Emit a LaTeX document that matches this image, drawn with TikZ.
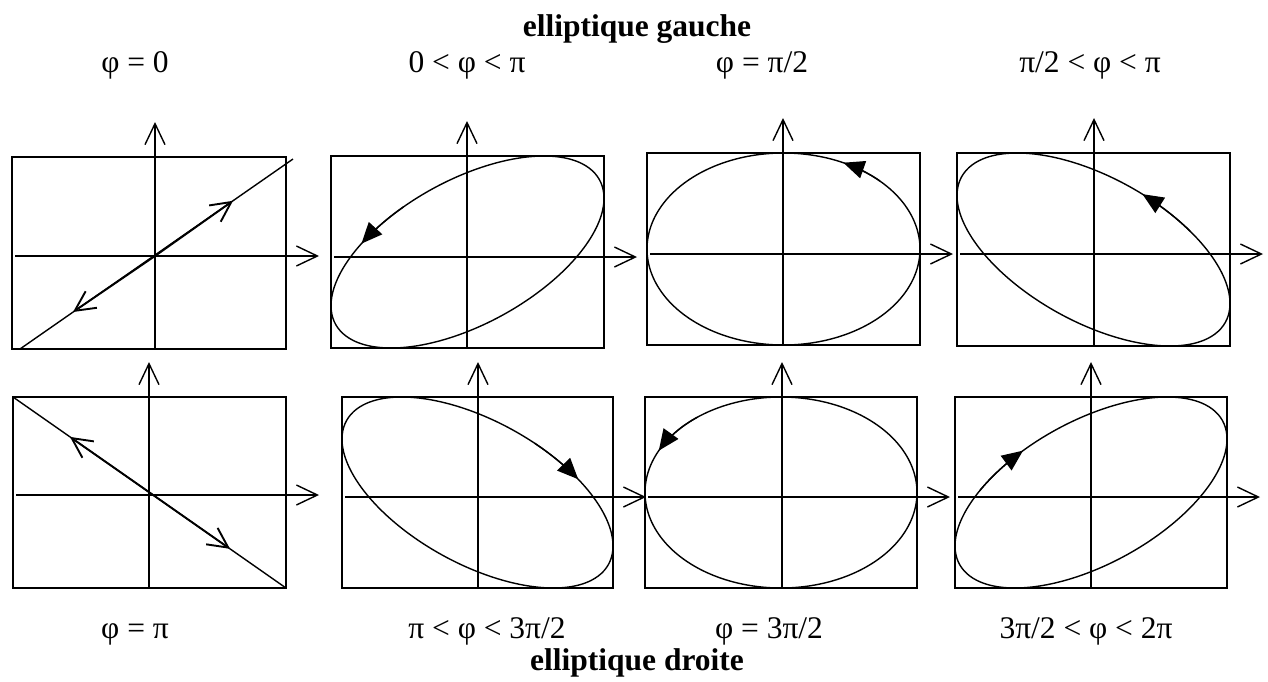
\documentclass[tikz,border=0pt]{standalone}
\usepackage{fontspec}
\setmainfont{Liberation Serif}
\usetikzlibrary{arrows.meta}

\begin{document}
\begin{tikzpicture}[x=1pt, y=-1pt,
        every node/.style={font=\fontsize{31.5}{36}\selectfont, anchor=base, inner sep=0pt},
        frame/.style={line width=1.4pt},
        axis/.style={line width=1.4pt, -{Straight Barb[length=21pt,width=20pt]}},
        curve/.style={line width=1.4pt},
        sens/.style={line width=1.4pt, -{Triangle[length=21pt,width=18pt]}},
        sensopen/.style={line width=1.9pt, -{Straight Barb[length=20pt,width=20pt]}}]
      \useasboundingbox (0,0) rectangle (1268,681);
      % titles
      \node[font=\fontsize{31.5}{36}\selectfont\bfseries] (G) at (637,36) {elliptique gauche};
      \node[font=\fontsize{31.5}{36}\selectfont\bfseries] (D) at (637,670) {elliptique droite};
      % phase labels
      \node (L1) at (135,72) {φ = 0};
      \node (L2) at (467,72) {0 < φ < π};
      \node (L3) at (762,72) {φ = π/2};
      \node (L4) at (1090,72) {π/2 < φ < π};
      \node (L5) at (135,638) {φ = π};
      \node (L6) at (487,638) {π < φ < 3π/2};
      \node (L7) at (769,638) {φ = 3π/2};
      \node (L8) at (1086,638) {3π/2 < φ < 2π};
      % frames and axes
      \foreach \ox/\oy/\bl/\br/\bt/\bb in {155/256/12/286/157/349, 467/257/331/604/156/348,
          783/254/647/920/153/345, 1094/254/957/1230/153/346, 149/495/13/286/397/588,
          478/497/342/613/397/588, 782/497/645/917/397/588, 1091/497/955/1227/397/588}{
        \draw[frame] (\bl,\bt) rectangle (\br,\bb);
        \draw[axis] (\ox,\bb) -- (\ox,\bt-35);
        \draw[axis] (\bl+3,\oy) -- (\br+33,\oy);
      }
      % linear cases
      \coordinate (O1) at (155,256);
      \coordinate (A1) at (20,349);
      \coordinate (B1) at (293,159);
      \draw[curve] (A1) -- (B1);
      \draw[sensopen] (O1) -- (233,200.8);
      \draw[sensopen] (O1) -- (73,312);
      \coordinate (O5) at (149,492.1);
      \coordinate (A5) at (13,397);
      \coordinate (B5) at (286,588);
      \draw[curve] (A5) -- (B5);
      \draw[sensopen] (O5) -- (70,436.9);
      \draw[sensopen] (O5) -- (230,548.8);
      % ellipses
      \foreach \bl/\br/\bt/\bb/\ph in {331/604/156/348/56, 647/920/153/345/90,
          957/1230/153/346/124, 342/613/397/588/236, 645/917/397/588/270,
          955/1227/397/588/304}
        \draw[curve] plot[domain=0:360, samples=121, smooth]
          ({(\bl+\br)/2 + (\br-\bl)/2*cos(\x)}, {(\bt+\bb)/2 - (\bb-\bt)/2*cos(\x-\ph)}) -- cycle;
      % direction of travel
      \draw[sens] plot[domain=118:141, samples=20] ({467.5+136.5*cos(\x)}, {252-96*cos(\x-56)});
      \draw[sens] plot[domain=45:64, samples=20] ({783.5+136.5*cos(\x)}, {249-96*cos(\x-90)});
      \draw[sens] plot[domain=45:69, samples=20] ({1093.5+136.5*cos(\x)}, {249.5-96.5*cos(\x-124)});
      \draw[sens] plot[domain=-65:-42, samples=20] ({477.5+135.5*cos(\x)}, {492.5-95.5*cos(\x-236)});
      \draw[sens] plot[domain=0:26, samples=20] ({781+136*cos(232-\x)}, {492.5-95.5*cos(232-\x-270)});
      \draw[sens] plot[domain=-145:-120, samples=20] ({1091+136*cos(\x)}, {492.5-95.5*cos(\x-304)});
    \end{tikzpicture}
\end{document}
